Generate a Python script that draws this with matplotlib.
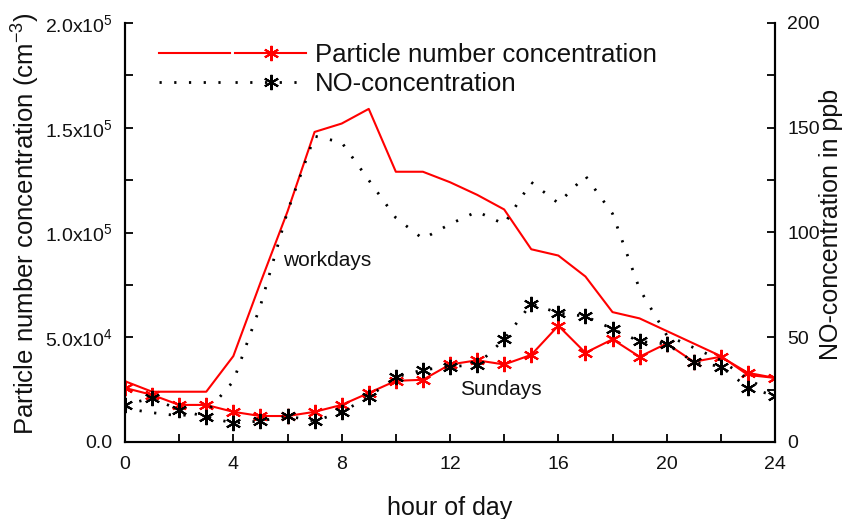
import matplotlib
matplotlib.use("Agg")
import matplotlib.pyplot as plt
from matplotlib.lines import Line2D
from matplotlib.legend_handler import HandlerTuple
from matplotlib.ticker import MultipleLocator, FuncFormatter

plt.rcParams['font.family'] = ['Liberation Sans', 'DejaVu Sans']
plt.rcParams['mathtext.default'] = 'regular'

hours = list(range(25))
# particle number concentration (cm^-3), workdays and Sundays
pn_work = [29e3, 24e3, 24e3, 24e3, 41e3, 76e3, 110e3, 148e3, 152e3, 159e3, 129e3, 129e3,
           124e3, 118e3, 111e3, 92e3, 89e3, 79e3, 62e3, 59e3, 53e3, 47e3, 41e3, 32e3, 30.6e3]
pn_sun = [25.8e3, 22.5e3, 17.7e3, 17.7e3, 14.4e3, 12.4e3, 12.4e3, 14.4e3, 17.7e3, 23.4e3,
          29.2e3, 29.7e3, 37e3, 39e3, 37e3, 41.6e3, 55.5e3, 42.6e3, 49e3, 40.7e3, 47e3,
          38.3e3, 40.7e3, 33e3, 30.6e3]
# NO concentration (ppb)
no_work = [16, 14, 12.5, 14, 29, 65, 110, 146, 143, 125, 107, 97, 104, 110, 104, 124, 114,
           127, 109, 73, 51, 45, 39, 30, 23]
no_sun = [17.7, 21, 15.3, 12, 9, 10, 12.4, 10, 14.3, 21.5, 31, 34.4, 36, 36.8, 49, 66, 61.6,
          60, 54, 48, 46.8, 38.2, 36, 26, 22]

x_ticks = [0, 4, 8, 12, 16, 20, 24]
left_ticks = [0, 5e4, 1e5, 1.5e5, 2e5]
right_ticks = [0, 50, 100, 150, 200]

fig = plt.figure(figsize=(8.44, 5.19), dpi=100)
ax = fig.add_axes([125/844, 1-442/519, 650/844, 419/519])
ax2 = ax.twinx()

star = (6, 2, 0)
red = '#ff0000'
txt = '#111111'
dots = (0, (0.8, 4.5))

ax.plot(hours, pn_work, color=red, lw=1.5, zorder=3)
ax.plot(hours, pn_sun, color=red, lw=1.5, marker=star, ms=11, mew=1.5, zorder=3)
ax2.plot(hours, no_work, color='black', lw=2.0, ls=dots, zorder=2)
ax2.plot(hours, no_sun, color='black', lw=2.0, ls=dots, marker=star, ms=11, mew=1.5, zorder=2)

ax.set_xlim(0, 24)
ax.set_ylim(0, 2e5)
ax2.set_ylim(0, 200)

ax.set_xticks(x_ticks)
ax.xaxis.set_minor_locator(MultipleLocator(2))
ax.set_yticks(left_ticks)
ax.yaxis.set_minor_locator(MultipleLocator(2.5e4))
ax2.set_yticks(right_ticks)
ax2.yaxis.set_minor_locator(MultipleLocator(25))


def sci(v, pos):
    if v == 0:
        return '0.0'
    exp = len(str(int(v))) - 1
    mant = v / 10**exp
    return r'$%.1fx10^{%d}$' % (mant, exp)


ax.yaxis.set_major_formatter(FuncFormatter(sci))

for a in (ax, ax2):
    a.spines['top'].set_visible(False)
    for s in a.spines.values():
        s.set_linewidth(1.5)
    a.tick_params(which='both', direction='in', length=6, width=1.3, labelsize=14,
                  labelcolor=txt, pad=9)
ax.tick_params(axis='x', pad=10)
ax.tick_params(axis='y', which='both', right=False)
ax2.tick_params(axis='y', pad=9)

ax.set_xlabel('hour of day', fontsize=18, color=txt, labelpad=17)
ax.set_ylabel('Particle number concentration (cm$^{-3}$)', fontsize=18.5, color=txt)
ax.yaxis.set_label_coords(-0.128, 0.52)
ax2.set_ylabel('NO-concentration in ppb', fontsize=18, color=txt)
ax2.yaxis.set_label_coords(1.068, 0.52)

ax.text(5.83, 86.6e3, 'workdays', fontsize=15, color=txt, ha='left', va='center')
ax.text(12.37, 24.9e3, 'Sundays', fontsize=15, color=txt, ha='left', va='center')

h1a = Line2D([], [], color=red, lw=1.5)
h1b = Line2D([], [], color=red, lw=1.5, marker=star, ms=11, mew=1.5)
h2a = Line2D([], [], color='black', lw=2.0, ls=dots)
h2b = Line2D([], [], color='black', lw=2.0, ls=dots, marker=star, ms=11, mew=1.5)
leg = ax2.legend([(h1a, h1b), (h2a, h2b)],
                 ['Particle number concentration', 'NO-concentration'],
                 handler_map={tuple: HandlerTuple(ndivide=None, pad=0.2)},
                 loc='upper left', bbox_to_anchor=(0.045, 0.965), frameon=False,
                 fontsize=18.5, handlelength=5.7, handletextpad=0.35,
                 borderpad=0.2, borderaxespad=0, labelspacing=0.2, numpoints=1)
for t in leg.get_texts():
    t.set_color(txt)

fig.savefig('out.png', dpi=100)
